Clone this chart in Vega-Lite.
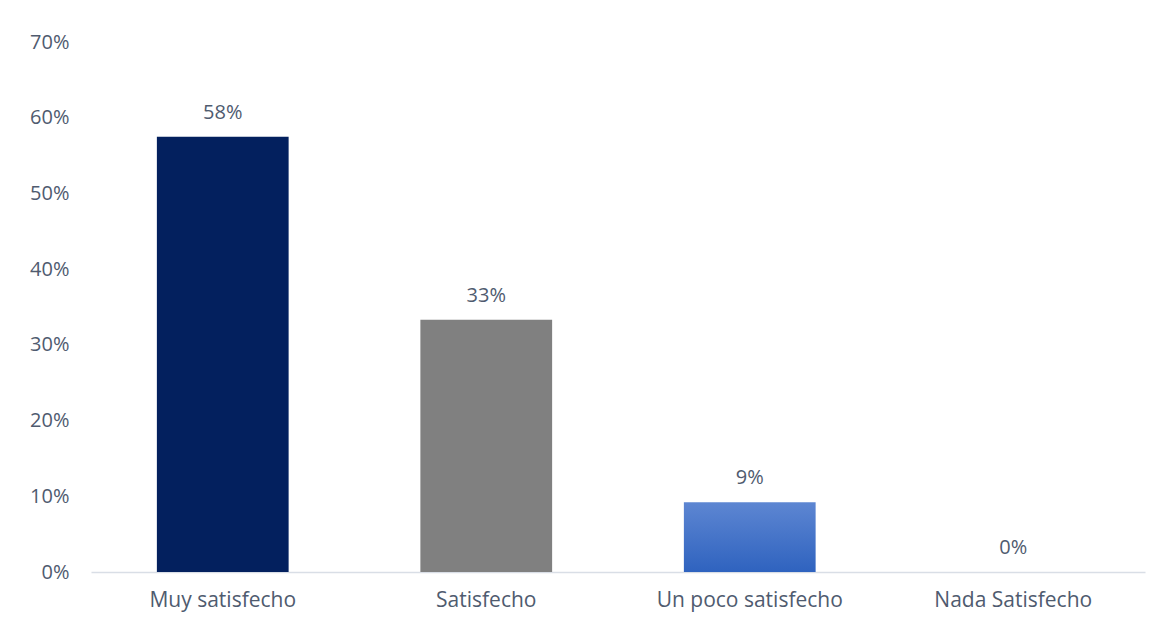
{
  "$schema": "https://vega.github.io/schema/vega-lite/v6.json",
  "width": 1054,
  "height": 530,
  "autosize": {"type": "none"},
  "padding": {"left": 91, "top": 42, "right": 15, "bottom": 54},
  "background": "white",
  "config": {
    "view": {"stroke": null},
    "font": "Open Sans"
  },
  "data": {
    "values": [
      {"categoria": "Muy satisfecho", "valor": 0.575, "etiqueta": "58%"},
      {"categoria": "Satisfecho", "valor": 0.333, "etiqueta": "33%"},
      {"categoria": "Un poco satisfecho", "valor": 0.092, "etiqueta": "9%"},
      {"categoria": "Nada Satisfecho", "valor": 0.0, "etiqueta": "0%"}
    ]
  },
  "encoding": {
    "x": {
      "field": "categoria",
      "type": "nominal",
      "sort": ["Muy satisfecho", "Satisfecho", "Un poco satisfecho", "Nada Satisfecho"],
      "scale": {"paddingInner": 0.5, "paddingOuter": 0.25},
      "axis": {
        "title": null,
        "labelAngle": 0,
        "labelLimit": 400,
        "ticks": false,
        "grid": false,
        "domainColor": "#D9DEE6",
        "domainWidth": 1.5,
        "labelFontSize": 21,
        "labelColor": "#4F5B6F",
        "labelPadding": 17,
        "labelFont": "Open Sans"
      }
    },
    "y": {
      "field": "valor",
      "type": "quantitative",
      "scale": {"domain": [0, 0.7]},
      "axis": {
        "title": null,
        "format": ".0%",
        "values": [0, 0.1, 0.2, 0.3, 0.4, 0.5, 0.6, 0.7],
        "labelOverlap": false,
        "labelFlush": false,
        "grid": false,
        "domain": false,
        "ticks": false,
        "labelFontSize": 20,
        "labelColor": "#4F5B6F",
        "labelPadding": 22,
        "labelFont": "Open Sans"
      }
    }
  },
  "layer": [
    {
      "transform": [{"filter": "datum.categoria !== 'Un poco satisfecho'"}],
      "mark": {"type": "bar"},
      "encoding": {
        "color": {
          "field": "categoria",
          "type": "nominal",
          "scale": {
            "domain": ["Muy satisfecho", "Satisfecho", "Nada Satisfecho"],
            "range": ["#03205E", "#808080", "#4472C4"]
          },
          "legend": null
        }
      }
    },
    {
      "transform": [{"filter": "datum.categoria === 'Un poco satisfecho'"}],
      "mark": {
        "type": "bar",
        "color": {
          "gradient": "linear",
          "x1": 0, "y1": 0, "x2": 0, "y2": 1,
          "stops": [
            {"offset": 0, "color": "#5D86D2"},
            {"offset": 1, "color": "#2F63BF"}
          ]
        }
      }
    },
    {
      "mark": {
        "type": "text",
        "baseline": "alphabetic",
        "dy": -18,
        "fontSize": 20,
        "color": "#4F5B6F",
        "font": "Open Sans"
      },
      "encoding": {
        "text": {"field": "etiqueta"}
      }
    }
  ]
}
